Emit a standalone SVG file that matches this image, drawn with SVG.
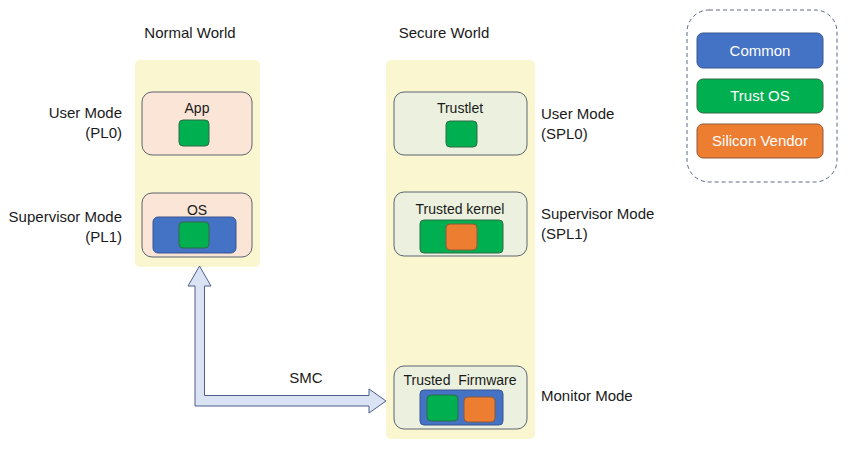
<svg xmlns="http://www.w3.org/2000/svg" width="852" height="452" viewBox="0 0 852 452">
<style>
text{font-family:"Liberation Sans",Arial,sans-serif;font-size:14px;fill:#1a1a1a}
.t15{font-size:15px}
.w{fill:#ffffff}
.panel{fill:#faf6cf;stroke:none}
.nbox{fill:#fbe5d6;stroke:#5f6472;stroke-width:1}
.sbox{fill:#ebf1de;stroke:#5f6472;stroke-width:1}
.blue{fill:#4472c4;stroke:#3a5590;stroke-width:1}
.green{fill:#00b050;stroke:#2f6b45;stroke-width:1}
.orange{fill:#ed7d31;stroke:#8a5a3a;stroke-width:1}
.arrow{fill:#dae3f3;stroke:#4f5f8f;stroke-width:1}
</style>
<rect width="852" height="452" fill="#ffffff"/>
<g id="labels">
<text class="t15" x="190" y="38" text-anchor="middle">Normal World</text>
<text class="t15" x="444" y="38" text-anchor="middle">Secure World</text>
<text class="t15" x="122" y="118" text-anchor="end">User Mode</text>
<text class="t15" x="122" y="138" text-anchor="end">(PL0)</text>
<text class="t15" x="122" y="222" text-anchor="end">Supervisor Mode</text>
<text class="t15" x="122" y="242" text-anchor="end">(PL1)</text>
<text class="t15" x="541" y="119">User Mode</text>
<text class="t15" x="541" y="139">(SPL0)</text>
<text class="t15" x="541" y="219">Supervisor Mode</text>
<text class="t15" x="541" y="239">(SPL1)</text>
<text class="t15" x="541" y="401">Monitor Mode</text>
</g>
<g id="normal-world">
<rect class="panel" x="135" y="60" width="125" height="207" rx="5"/>
</g>
<g id="secure-world">
<rect class="panel" x="386" y="60" width="149" height="379" rx="5"/>
</g>
<g id="app">
<rect class="nbox" x="142" y="92" width="110" height="63" rx="10"/>
<text x="197" y="113" text-anchor="middle">App</text>
<rect class="green" x="179" y="120" width="30" height="26" rx="4"/>
</g>
<g id="os">
<rect class="nbox" x="142" y="193" width="110" height="64" rx="10"/>
<text x="197" y="215" text-anchor="middle">OS</text>
<rect class="blue" x="153" y="217" width="83" height="36" rx="5"/>
<rect class="green" x="179" y="222" width="30" height="26" rx="4"/>
</g>
<g id="trustlet">
<rect class="sbox" x="394" y="92" width="133" height="63" rx="10"/>
<text x="460" y="113" text-anchor="middle">Trustlet</text>
<rect class="green" x="446" y="121" width="31" height="26" rx="4"/>
</g>
<g id="trusted-kernel">
<rect class="sbox" x="394" y="192" width="133" height="64" rx="10"/>
<text x="460" y="214" text-anchor="middle">Trusted kernel</text>
<rect class="green" x="420" y="220" width="83" height="33" rx="4"/>
<rect class="orange" x="446" y="224" width="31" height="26" rx="4"/>
</g>
<g id="trusted-firmware">
<rect class="sbox" x="394" y="366" width="133" height="63" rx="10"/>
<text x="460" y="385" text-anchor="middle">Trusted&#160; Firmware</text>
<rect class="blue" x="420" y="390" width="83" height="35" rx="4"/>
<rect class="green" x="427" y="395" width="31" height="26" rx="4"/>
<rect class="orange" x="464" y="397" width="31" height="25" rx="4"/>
</g>
<g id="connectors">
<path class="arrow" d="M199.5,266 L211,286 L204.5,286 L204.5,395.5 L369,395.5 L369,389 L386,401 L369,413 L369,406 L195,406 L195,286 L188,286 Z"/>
<text x="306" y="383" text-anchor="middle" class="t15">SMC</text>
</g>
<g id="legend">
<rect x="687" y="10" width="150" height="172" rx="22" fill="none" stroke="#5a6a8a" stroke-width="1" stroke-dasharray="4,3"/>
<g id="legend-common">
<rect class="blue" x="697" y="33" width="126" height="35" rx="6"/>
<text class="w t15" x="760" y="56" text-anchor="middle">Common</text>
</g>
<g id="legend-trustos">
<rect class="green" x="697" y="79" width="126" height="34" rx="6"/>
<text class="w t15" x="760" y="101" text-anchor="middle">Trust OS</text>
</g>
<g id="legend-vendor">
<rect class="orange" x="697" y="124" width="126" height="34" rx="6"/>
<text class="w t15" x="760" y="146" text-anchor="middle">Silicon Vendor</text>
</g>
</g>
</svg>
